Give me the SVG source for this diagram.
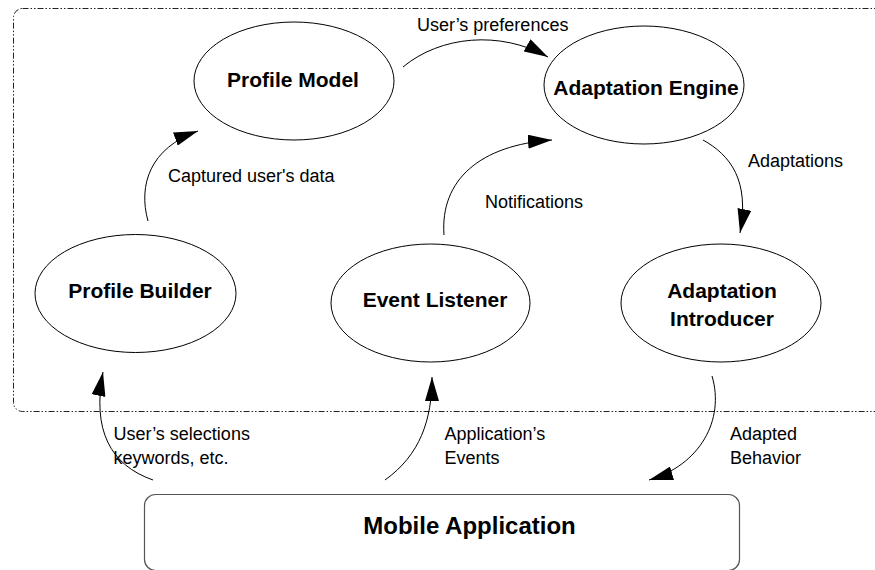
<svg xmlns="http://www.w3.org/2000/svg" width="875" height="570" viewBox="0 0 875 570">
<style>
.node{fill:#fff;stroke:#000;stroke-width:1}
.nt{font-family:"Liberation Sans",Arial,sans-serif;font-weight:bold;font-size:21px;text-anchor:middle;fill:#000}
.lb{font-family:"Liberation Sans",Arial,sans-serif;font-size:18px;fill:#000}
.conn{fill:none;stroke:#000;stroke-width:1;marker-end:url(#arr)}
</style>
<defs>
<marker id="arr" markerUnits="userSpaceOnUse" markerWidth="24" markerHeight="14" viewBox="0 0 24 14" refX="24" refY="7" orient="auto">
<path d="M0,0 L24,7 L0,14 z" fill="#000"/>
</marker>
</defs>
<rect x="0" y="0" width="875" height="570" fill="#fff"/>
<rect id="boundary" x="13.5" y="8.5" width="900" height="403" rx="9" ry="9" fill="none" stroke="#222" stroke-width="1" stroke-dasharray="6 2 1.5 2 1.5 2"/>
<g id="profile-model">
<ellipse class="node" cx="294" cy="81" rx="100" ry="59"/>
<text class="nt" x="293" y="87">Profile Model</text>
</g>
<g id="adaptation-engine">
<ellipse class="node" cx="644" cy="85" rx="100" ry="59"/>
<text class="nt" x="646" y="95">Adaptation Engine</text>
</g>
<g id="profile-builder">
<ellipse class="node" cx="135.5" cy="293.5" rx="100.5" ry="59"/>
<text class="nt" x="140" y="298">Profile Builder</text>
</g>
<g id="event-listener">
<ellipse class="node" cx="430.5" cy="303" rx="99.5" ry="59"/>
<text class="nt" x="435" y="307">Event Listener</text>
</g>
<g id="adaptation-introducer">
<ellipse class="node" cx="721" cy="303" rx="100" ry="59"/>
<text class="nt" x="722" y="298">Adaptation</text>
<text class="nt" x="722" y="325.5">Introducer</text>
</g>
<g id="mobile-application">
<rect x="144.5" y="494.5" width="595" height="76" rx="11" ry="11" fill="#fff" stroke="#555" stroke-width="1.2"/>
<text x="469.5" y="534" font-family="'Liberation Sans',Arial,sans-serif" font-weight="bold" font-size="24" text-anchor="middle" fill="#000">Mobile Application</text>
</g>
<g id="connectors">
<path class="conn" d="M148,221 C138,185 150,148 198,131"/>
<path class="conn" d="M403,67 C440,36 500,30 548,57"/>
<path class="conn" d="M444,235 C440,180 480,145 552,140"/>
<path class="conn" d="M703,140 C730,155 750,180 740,233"/>
<path class="conn" d="M153,480 C110,465 92,430 103,372"/>
<path class="conn" d="M385,480 C420,455 432,420 432,377"/>
<path class="conn" d="M712,376 C725,420 700,465 649,480"/>
</g>
<g id="labels">
<text class="lb" x="417" y="31">User’s preferences</text>
<text class="lb" x="168" y="182">Captured user's data</text>
<text class="lb" x="485" y="208">Notifications</text>
<text class="lb" x="748" y="166.5">Adaptations</text>
<text class="lb" x="113.5" y="440">User’s selections</text>
<text class="lb" x="113.5" y="464">keywords, etc.</text>
<text class="lb" x="444.5" y="440">Application’s</text>
<text class="lb" x="444.5" y="464">Events</text>
<text class="lb" x="730" y="440">Adapted</text>
<text class="lb" x="730" y="464">Behavior</text>
</g>
</svg>
